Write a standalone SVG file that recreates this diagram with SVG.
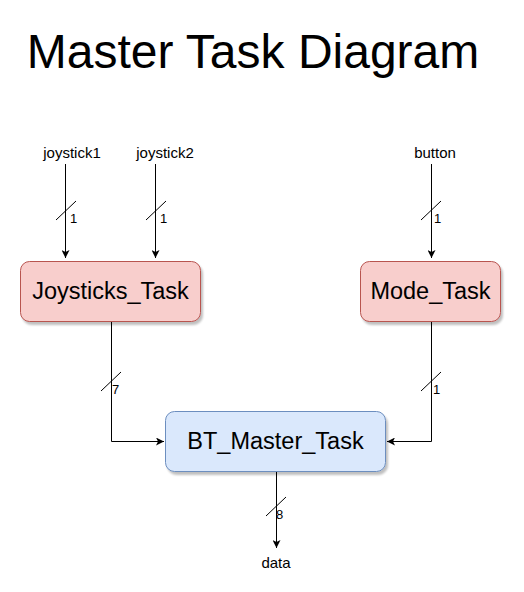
<svg xmlns="http://www.w3.org/2000/svg" width="524" height="592" viewBox="0 0 524 592">
<defs>
<marker id="arr" viewBox="0 0 10 10" refX="10" refY="5" markerWidth="8" markerHeight="8" markerUnits="userSpaceOnUse" orient="auto">
<path d="M0,0 L10,5 L0,10 L2.5,5 Z" fill="#000"/>
</marker>
<filter id="sh" x="-10%" y="-10%" width="130%" height="140%">
<feGaussianBlur in="SourceAlpha" stdDeviation="1.2"/>
<feOffset dx="2" dy="3" result="b"/>
<feComponentTransfer><feFuncA type="linear" slope="0.25"/></feComponentTransfer>
<feMerge><feMergeNode/><feMergeNode in="SourceGraphic"/></feMerge>
</filter>
</defs>
<style>
text{font-family:"Liberation Sans",Arial,sans-serif;fill:#000}
.title{font-size:48px}
.node{font-size:23.5px}
.lbl{font-size:15px}
.num{font-size:13px}
.red{fill:#f8cecc;stroke:#b85450;stroke-width:1}
.blue{fill:#dae8fc;stroke:#6c8ebf;stroke-width:1}
.ln{fill:none;stroke:#000;stroke-width:1}
</style>
<rect width="524" height="592" fill="#fff"/>
<text class="title" x="253" y="68" text-anchor="middle">Master Task Diagram</text>

<g id="connectors">
<path class="ln" d="M65.5,164 V258" marker-end="url(#arr)"/>
<path class="ln" d="M155.5,164 V258" marker-end="url(#arr)"/>
<path class="ln" d="M431.5,164 V258" marker-end="url(#arr)"/>
<path class="ln" d="M111.5,321 V441.5 H164" marker-end="url(#arr)"/>
<path class="ln" d="M431.5,321 V441.5 H387" marker-end="url(#arr)"/>
<path class="ln" d="M276.5,471 V548" marker-end="url(#arr)"/>
<path class="ln" d="M56,220 L76,201 M146,220 L166,201 M421,220 L441,201 M101,391 L121,372 M421,391 L441,372 M266,516 L286,497"/>
<text class="num" x="70" y="223">1</text>
<text class="num" x="160" y="223">1</text>
<text class="num" x="434" y="223">1</text>
<text class="num" x="112" y="394">7</text>
<text class="num" x="433" y="394">1</text>
<text class="num" x="276" y="519">8</text>
</g>

<g id="joystick1"><text class="lbl" x="72" y="158" text-anchor="middle">joystick1</text></g>
<g id="joystick2"><text class="lbl" x="165" y="158" text-anchor="middle">joystick2</text></g>
<g id="button"><text class="lbl" x="435" y="158" text-anchor="middle">button</text></g>
<g id="data"><text class="lbl" x="276" y="568" text-anchor="middle">data</text></g>

<g id="joysticks_task">
<rect class="red" x="20.5" y="261.5" width="180" height="60" rx="9" filter="url(#sh)"/>
<text class="node" x="110.5" y="299" text-anchor="middle">Joysticks_Task</text>
</g>
<g id="mode_task">
<rect class="red" x="360.5" y="261.5" width="140" height="60" rx="9" filter="url(#sh)"/>
<text class="node" x="430.5" y="299" text-anchor="middle">Mode_Task</text>
</g>
<g id="bt_master_task">
<rect class="blue" x="165.5" y="411.5" width="220" height="60" rx="9" filter="url(#sh)"/>
<text class="node" x="275.5" y="449" text-anchor="middle">BT_Master_Task</text>
</g>
</svg>
